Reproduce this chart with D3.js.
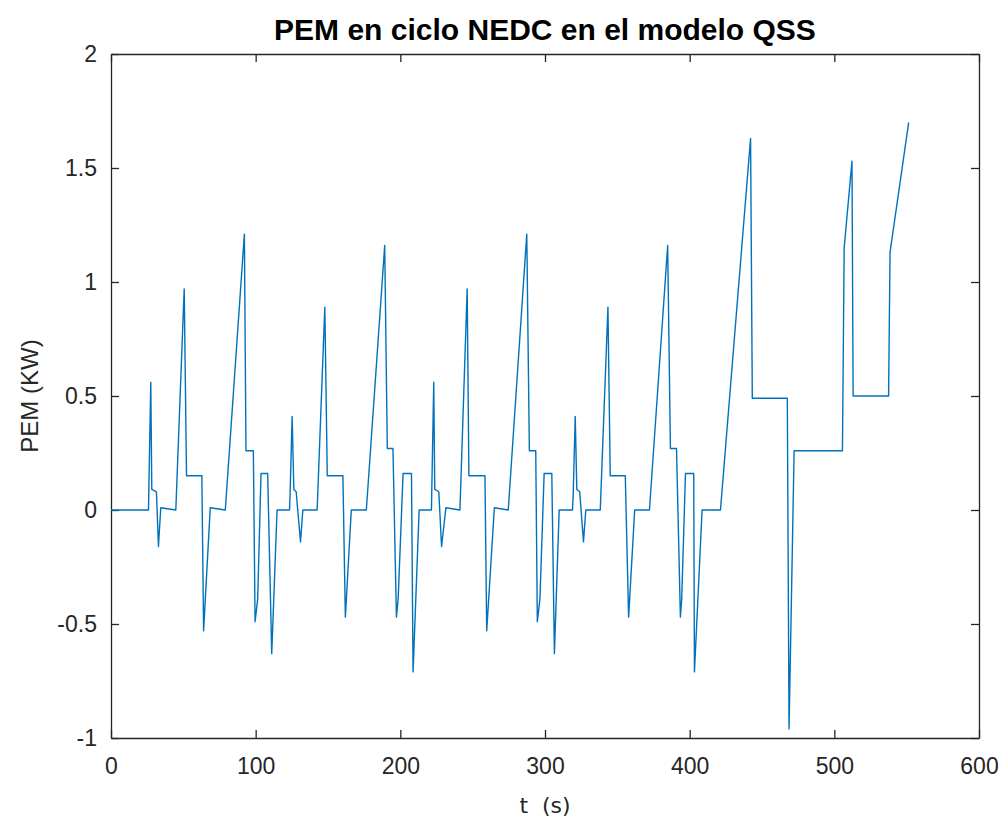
<!DOCTYPE html>
<html>
<head>
<meta charset="utf-8">
<script src="https://cdn.jsdelivr.net/npm/d3@7"></script>
<style>
  body { margin: 0; background: #fff; }
  svg { display: block; }
  .axis text { font-family: "Liberation Sans", Arial, sans-serif; font-size: 23px; fill: #262626; }
  .axis path, .axis line { stroke: #262626; stroke-width: 1.3; }
</style>
</head>
<body>
<script>
// PEM en ciclo NEDC (modelo QSS): time in s, power in kW
var tData = [
  0, 25.9, 27.5, 28.2, 31.4, 32.8, 34.4, 44.8, 50.6, 52.2, 62.8, 64.0, 68.6, 79.0, 92.2, 93.3, 98.4, 99.6, 101.4, 103.7, 108.3, 111.1, 114.8,
  123.4, 123.8, 125.2, 126.4, 128.0, 131.0, 132.6, 142.5, 147.8, 149.5, 160.3, 162.0, 166.1, 176.5, 189.2, 191.0, 194.9, 197.3, 198.5, 201.9, 207.7, 208.8, 213.0,
  221.5, 223.1, 223.8, 226.6, 228.5, 231.5, 241.2, 246.2, 247.4, 258.5, 259.7, 265.0, 274.6, 287.4, 289.2, 293.6, 294.7, 296.5, 299.4, 304.7, 306.5, 309.8,
  319.0, 319.5, 320.9, 322.0, 324.0, 326.6, 328.2, 338.2, 343.5, 345.1, 355.5, 357.8, 362.0, 372.2, 384.8, 386.7, 390.9, 393.6, 394.5, 397.1, 402.8, 403.3, 408.6,
  421.3, 442.1, 443.3, 467.5, 468.7, 472.2, 505.6, 506.8, 512.2, 513.0, 537.5, 538.5, 551.4
];
var pemData = [
  0, 0, 0.56, 0.09, 0.08, -0.16, 0.01, 0, 0.97, 0.15, 0.15, -0.53, 0.01, 0, 1.21, 0.26, 0.26, -0.49, -0.39, 0.16, 0.16, -0.63, 0,
  0, 0.07, 0.41, 0.09, 0.08, -0.14, 0, 0, 0.89, 0.15, 0.15, -0.47, 0, 0, 1.16, 0.27, 0.27, -0.47, -0.39, 0.16, 0.16, -0.71, 0,
  0, 0.56, 0.09, 0.08, -0.16, 0.01, 0, 0.97, 0.15, 0.15, -0.53, 0.01, 0, 1.21, 0.26, 0.26, -0.49, -0.39, 0.16, 0.16, -0.63, 0,
  0, 0.07, 0.41, 0.09, 0.08, -0.14, 0, 0, 0.89, 0.15, 0.15, -0.47, 0, 0, 1.16, 0.27, 0.27, -0.47, -0.39, 0.16, 0.16, -0.71, 0,
  0, 1.63, 0.49, 0.49, -0.96, 0.26, 0.26, 1.15, 1.53, 0.50, 0.50, 1.13, 1.70
];
var xTicks = [0, 100, 200, 300, 400, 500, 600];
var yTicks = [-1, -0.5, 0, 0.5, 1, 1.5, 2];
var yTickLabels = ["-1", "-0.5", "0", "0.5", "1", "1.5", "2"];

var titleText = "PEM en ciclo NEDC en el modelo QSS";
var xLabel = "t  (s)";
var yLabel = "PEM (KW)";

var w = 1005, h = 827;
// plot box (window.top is read only, so other names)
var padL = 111, padR = 979, padT = 54, padB = 738;

var svg = d3.select("body").append("svg")
  .attr("width", w)
  .attr("height", h);

svg.append("rect").attr("width", w).attr("height", h).attr("fill", "#fff");

var xScale = d3.scaleLinear().domain([0, 600]).range([padL, padR]);
var yScale = d3.scaleLinear().domain([-1, 2]).range([padB, padT]);

// axes, ticks pointing inside like matlab
svg.append("g")
  .attr("class", "axis")
  .attr("transform", "translate(0," + padB + ")")
  .call(d3.axisBottom(xScale).tickValues(xTicks).tickSizeInner(-8).tickSizeOuter(0).tickPadding(20).tickFormat(d3.format("d")));

svg.append("g")
  .attr("class", "axis")
  .attr("transform", "translate(0," + padT + ")")
  .call(d3.axisTop(xScale).tickValues(xTicks).tickSizeInner(-8).tickSizeOuter(0).tickFormat(""));

svg.append("g")
  .attr("class", "axis")
  .attr("transform", "translate(" + padL + ",0)")
  .call(d3.axisLeft(yScale).tickValues(yTicks).tickSizeInner(-8).tickSizeOuter(0).tickPadding(14)
    .tickFormat(function(d, i) { return yTickLabels[i]; }));

svg.append("g")
  .attr("class", "axis")
  .attr("transform", "translate(" + padR + ",0)")
  .call(d3.axisRight(yScale).tickValues(yTicks).tickSizeInner(-8).tickSizeOuter(0).tickFormat(""));

svg.selectAll(".axis text").attr("fill", "#262626");

// the line
var points = tData.map(function(t, i) { return [t, pemData[i]]; });
var line = d3.line()
  .x(function(d) { return xScale(d[0]); })
  .y(function(d) { return yScale(d[1]); });

svg.append("path")
  .datum(points)
  .attr("d", line)
  .attr("fill", "none")
  .attr("stroke", "#0072BD")
  .attr("stroke-width", 1.4)
  .attr("stroke-linejoin", "round");

// title and labels
svg.append("text")
  .attr("x", (padL + padR) / 2)
  .attr("y", 40)
  .attr("text-anchor", "middle")
  .style("font-family", "Liberation Sans, Arial, sans-serif")
  .style("font-weight", "bold")
  .style("font-size", "30px")
  .attr("fill", "#000")
  .text(titleText);

svg.append("text")
  .attr("x", (padL + padR) / 2)
  .attr("y", 813)
  .attr("text-anchor", "middle")
  .style("font-family", "DejaVu Sans, sans-serif")
  .style("font-size", "22px")
  .style("white-space", "pre")
  .attr("fill", "#262626")
  .text(xLabel);

svg.append("text")
  .attr("transform", "translate(38," + ((padT + padB) / 2) + ") rotate(-90)")
  .attr("text-anchor", "middle")
  .style("font-family", "Liberation Sans, Arial, sans-serif")
  .style("font-size", "24px")
  .attr("fill", "#262626")
  .text(yLabel);
</script>
</body>
</html>
